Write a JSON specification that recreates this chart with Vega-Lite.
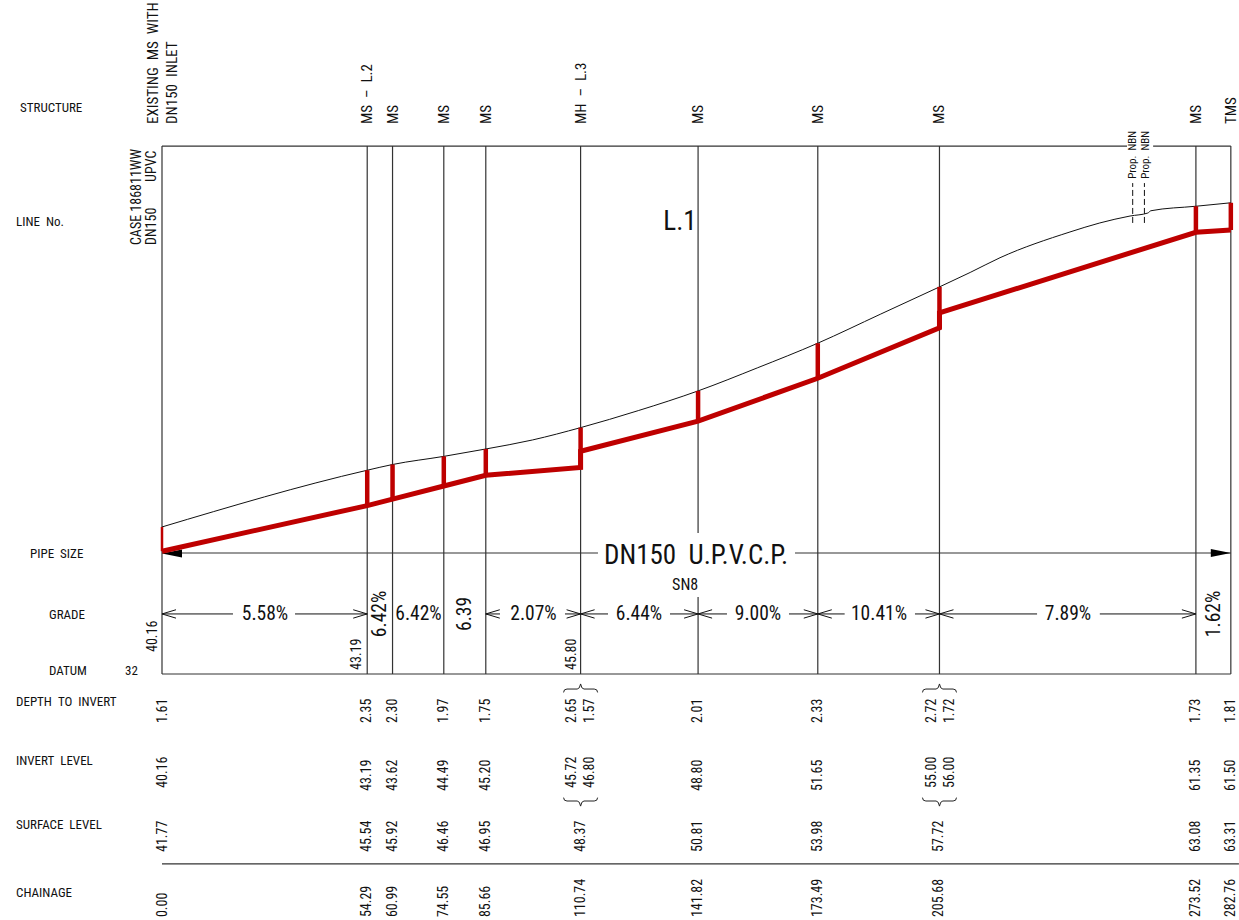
{
"$schema":"https://vega.github.io/schema/vega-lite/v6.json",
"width":1239,"height":920,"padding":0,
"autosize":{"type":"none"},
"background":"white",
"view":{"stroke":null},
"config":{"text":{"font":"Roboto Condensed, DejaVu Sans Condensed, Liberation Sans","color":"#111"}},
"datasets":{
"frame":[
{"x0":0,"x1":0,"y0":32,"y1":67.08},
{"x0":54.29,"x1":54.29,"y0":32,"y1":67.08},
{"x0":60.99,"x1":60.99,"y0":32,"y1":67.08},
{"x0":74.55,"x1":74.55,"y0":32,"y1":67.08},
{"x0":85.66,"x1":85.66,"y0":32,"y1":67.08},
{"x0":110.74,"x1":110.74,"y0":32,"y1":67.08},
{"x0":141.82,"x1":141.82,"y0":41.37,"y1":67.08},
{"x0":141.82,"x1":141.82,"y0":32,"y1":37.12},
{"x0":173.49,"x1":173.49,"y0":32,"y1":67.08},
{"x0":205.68,"x1":205.68,"y0":32,"y1":67.08},
{"x0":273.52,"x1":273.52,"y0":32,"y1":67.08},
{"x0":282.76,"x1":282.76,"y0":32,"y1":67.08},
{"x0":0,"x1":255.3,"y0":67.08,"y1":67.08},
{"x0":262.2,"x1":282.76,"y0":67.08,"y1":67.08},
{"x0":0,"x1":282.76,"y0":32,"y1":32},
{"x0":0,"x1":284.9,"y0":19.38,"y1":19.38},
{"x0":0,"x1":115.34,"y0":40.04,"y1":40.04},
{"x0":167.46,"x1":282.76,"y0":40.04,"y1":40.04}
],
"grade":[
{"x0":0,"x1":18.78},{"x0":35.19,"x1":54.29},
{"x0":85.66,"x1":89.42},{"x0":106.61,"x1":110.74},
{"x0":110.74,"x1":117.99},{"x0":134.39,"x1":141.82},
{"x0":141.82,"x1":149.47},{"x0":165.87,"x1":173.49},
{"x0":173.49,"x1":180.6},{"x0":199.2,"x1":205.68},
{"x0":205.68,"x1":231.5},{"x0":248.1,"x1":273.52}
],
"nbn":[
{"x":256.8,"y0":61.97,"y1":64.62},
{"x":259.9,"y0":61.97,"y1":64.62}
],
"stations":[
{"chainage":0,"invert":40.16,"surface":41.77},
{"chainage":54.29,"invert":43.19,"surface":45.54},
{"chainage":60.99,"invert":43.62,"surface":45.92},
{"chainage":74.55,"invert":44.49,"surface":46.46},
{"chainage":85.66,"invert":45.2,"surface":46.95},
{"chainage":110.74,"invert":45.72,"surface":48.37},
{"chainage":141.82,"invert":48.8,"surface":50.81},
{"chainage":173.49,"invert":51.65,"surface":53.98},
{"chainage":205.68,"invert":55,"surface":57.72},
{"chainage":273.52,"invert":61.35,"surface":63.08},
{"chainage":282.76,"invert":61.5,"surface":63.31}
],
"ground":[
{"seq":1,"c":0,"lvl":41.77},{"seq":2,"c":54.29,"lvl":45.54},{"seq":3,"c":60.99,"lvl":45.92},
{"seq":4,"c":74.55,"lvl":46.46},{"seq":5,"c":85.66,"lvl":46.95},{"seq":6,"c":98,"lvl":47.55},
{"seq":7,"c":110.74,"lvl":48.37},{"seq":8,"c":126,"lvl":49.5},{"seq":9,"c":141.82,"lvl":50.81},
{"seq":10,"c":157.6,"lvl":52.35},{"seq":11,"c":173.49,"lvl":53.98},{"seq":12,"c":190,"lvl":55.9},
{"seq":13,"c":205.68,"lvl":57.72},{"seq":14,"c":213.8,"lvl":58.68},{"seq":15,"c":221.7,"lvl":59.66},
{"seq":16,"c":240.2,"lvl":61.37},{"seq":17,"c":248.1,"lvl":61.97},{"seq":18,"c":256.1,"lvl":62.43},
{"seq":19,"c":260.8,"lvl":62.63},{"seq":20,"c":261.6,"lvl":62.78},{"seq":21,"c":273.52,"lvl":63.08},
{"seq":22,"c":282.76,"lvl":63.31}
],
"pipe":[
{"seq":1,"c":0,"lvl":40.16},{"seq":2,"c":54.29,"lvl":43.19},{"seq":3,"c":60.99,"lvl":43.62},
{"seq":4,"c":74.55,"lvl":44.49},{"seq":5,"c":85.66,"lvl":45.2},{"seq":6,"c":110.74,"lvl":45.72},
{"seq":7,"c":110.74,"lvl":46.8},{"seq":8,"c":141.82,"lvl":48.8},{"seq":9,"c":173.49,"lvl":51.65},
{"seq":10,"c":205.68,"lvl":55},{"seq":11,"c":205.68,"lvl":56},{"seq":12,"c":273.52,"lvl":61.35},
{"seq":13,"c":282.76,"lvl":61.5}
],
"arrowsL":[{"c":0},{"c":85.66},{"c":110.74},{"c":141.82},{"c":173.49},{"c":205.68}],
"arrowsR":[{"c":54.29},{"c":110.74},{"c":141.82},{"c":173.49},{"c":205.68},{"c":273.52}],
"braces":[{"c":110.74},{"c":205.68}],
"rowNames":[
{"t":"STRUCTURE","c":-37.57,"l":69.61},
{"t":"LINE\u00a0\u00a0No.","c":-38.62,"l":62.03},
{"t":"PIPE\u00a0\u00a0SIZE","c":-34.92,"l":39.97},
{"t":"GRADE","c":-29.89,"l":35.92},
{"t":"DATUM","c":-29.89,"l":32.2},
{"t":"32","c":-9.79,"l":32.2},
{"t":"DEPTH\u00a0\u00a0TO\u00a0\u00a0INVERT","c":-38.62,"l":30.14},
{"t":"INVERT\u00a0\u00a0LEVEL","c":-38.62,"l":26.22},
{"t":"SURFACE\u00a0\u00a0LEVEL","c":-38.62,"l":21.97},
{"t":"CHAINAGE","c":-38.62,"l":17.45}
],
"values":[
{"t":"1.61","c":0.2,"l":28.74},{"t":"2.35","c":54.29,"l":28.74},{"t":"2.30","c":60.99,"l":28.74},{"t":"1.97","c":74.55,"l":28.74},{"t":"1.75","c":85.66,"l":28.74},{"t":"2.65","c":108.39,"l":28.74},{"t":"1.57","c":113.23,"l":28.74},{"t":"2.01","c":141.82,"l":28.74},{"t":"2.33","c":173.49,"l":28.74},{"t":"2.72","c":203.62,"l":28.74},{"t":"1.72","c":208.47,"l":28.74},{"t":"1.73","c":273.52,"l":28.74},{"t":"1.81","c":282.76,"l":28.74},
{"t":"40.16","c":0.2,"l":24.43},{"t":"43.19","c":54.29,"l":24.23},{"t":"43.62","c":60.99,"l":24.23},{"t":"44.49","c":74.55,"l":24.23},{"t":"45.20","c":85.66,"l":24.23},{"t":"45.72","c":108.39,"l":24.43},{"t":"46.80","c":113.23,"l":24.43},{"t":"48.80","c":141.82,"l":24.23},{"t":"51.65","c":173.49,"l":24.23},{"t":"55.00","c":203.62,"l":24.43},{"t":"56.00","c":208.47,"l":24.43},{"t":"61.35","c":273.52,"l":24.23},{"t":"61.50","c":282.76,"l":24.23},
{"t":"41.77","c":0.2,"l":20.17},{"t":"45.54","c":54.29,"l":20.17},{"t":"45.92","c":60.99,"l":20.17},{"t":"46.46","c":74.55,"l":20.17},{"t":"46.95","c":85.66,"l":20.17},{"t":"48.37","c":110.74,"l":20.17},{"t":"50.81","c":141.82,"l":20.17},{"t":"53.98","c":173.49,"l":20.17},{"t":"57.72","c":205.68,"l":20.17},{"t":"63.08","c":273.52,"l":20.17},{"t":"63.31","c":282.76,"l":20.17},
{"t":"0.00","c":0.2,"l":15.85},{"t":"54.29","c":54.29,"l":15.85},{"t":"60.99","c":60.99,"l":15.85},{"t":"74.55","c":74.55,"l":15.85},{"t":"85.66","c":85.66,"l":15.85},{"t":"110.74","c":110.74,"l":15.85},{"t":"141.82","c":141.82,"l":15.85},{"t":"173.49","c":173.49,"l":15.85},{"t":"205.68","c":205.68,"l":15.85},{"t":"273.52","c":273.52,"l":15.85},{"t":"282.76","c":282.76,"l":15.85},
{"t":"40.16","c":-2.38,"l":33.46},{"t":"43.19","c":51.6,"l":32.27},{"t":"45.80","c":108.5,"l":32.27},
{"t":"CASE\u00a0186811WW","c":-6.6,"l":60.5},{"t":"DN150\u00a0\u00a0\u00a0\u00a0\u00a0\u00a0\u00a0\u00a0UPVC","c":-2.65,"l":60.5}
],
"structures":[
{"t":"EXISTING\u00a0\u00a0MS\u00a0\u00a0WITH","c":-2.4,"l":68.54},
{"t":"DN150\u00a0\u00a0INLET","c":2.6,"l":68.54},
{"t":"MS\u00a0\u00a0\u2013\u00a0\u00a0L.2","c":54.29,"l":68.54},
{"t":"MS","c":60.99,"l":68.54},{"t":"MS","c":74.55,"l":68.54},{"t":"MS","c":85.66,"l":68.54},
{"t":"MH\u00a0\u00a0\u2013\u00a0\u00a0L.3","c":110.74,"l":68.54},
{"t":"MS","c":141.82,"l":68.54},{"t":"MS","c":173.49,"l":68.54},{"t":"MS","c":205.68,"l":68.54},
{"t":"MS","c":273.52,"l":68.54},{"t":"TMS","c":282.76,"l":68.54}
],
"gradeH":[
{"t":"5.58%","c":27.25},{"t":"6.42%","c":67.86},{"t":"2.07%","c":98.28},{"t":"6.44%","c":126.2},
{"t":"9.00%","c":157.67},{"t":"10.41%","c":189.68},{"t":"7.89%","c":239.68}
],
"gradeV":[{"t":"6.42%","c":57.8},{"t":"6.39","c":80.16},{"t":"1.62%","c":278.2}],
"nbnText":[{"t":"Prop.\u00a0\u00a0NBN","c":256.8,"l":64.9},{"t":"Prop.\u00a0\u00a0NBN","c":260.2,"l":64.9}],
"big":[{"t":"L.1","c":137.04,"l":62.03},{"t":"DN150\u00a0\u00a0U.P.V.C.P.","c":141.3,"l":39.84}],
"sn":[{"t":"SN8","c":138.4,"l":37.91}]
},
"layer":[
{"data":{"name":"frame"},"mark":{"type":"rule","color":"#333","strokeWidth":1.2},
 "encoding":{"x":{"field":"x0","type":"quantitative","axis":null,"scale":{"domain":[-42.857,284.921],"nice":false,"zero":false}},
 "x2":{"field":"x1"},
 "y":{"field":"y0","type":"quantitative","axis":null,"scale":{"domain":[15.654,76.784],"nice":false,"zero":false}},
 "y2":{"field":"y1"}}},
{"data":{"name":"grade"},"mark":{"type":"rule","color":"#111","strokeWidth":1},
 "encoding":{"x":{"field":"x0","type":"quantitative","axis":null,"scale":{"domain":[-42.857,284.921],"nice":false,"zero":false}},"x2":{"field":"x1"},"y":{"datum":35.99,"axis":null,"scale":{"domain":[15.654,76.784],"nice":false,"zero":false}}}},
{"data":{"name":"nbn"},"mark":{"type":"rule","color":"#111","strokeWidth":1,"strokeDash":[6,3]},
 "encoding":{"x":{"field":"x","type":"quantitative","axis":null,"scale":{"domain":[-42.857,284.921],"nice":false,"zero":false}},"y":{"field":"y0","type":"quantitative","axis":null,"scale":{"domain":[15.654,76.784],"nice":false,"zero":false}},"y2":{"field":"y1"}}},
{"data":{"name":"arrowsL"},"mark":{"type":"point","filled":false,"stroke":"#111","strokeWidth":1,"opacity":1,"size":196,"shape":"M2,-0.6L0,0L2,0.6"},
 "encoding":{"x":{"field":"c","type":"quantitative","axis":null,"scale":{"domain":[-42.857,284.921],"nice":false,"zero":false}},"y":{"datum":35.99,"axis":null,"scale":{"domain":[15.654,76.784],"nice":false,"zero":false}}}},
{"data":{"name":"arrowsR"},"mark":{"type":"point","filled":false,"stroke":"#111","strokeWidth":1,"opacity":1,"size":196,"shape":"M-2,-0.6L0,0L-2,0.6"},
 "encoding":{"x":{"field":"c","type":"quantitative","axis":null,"scale":{"domain":[-42.857,284.921],"nice":false,"zero":false}},"y":{"datum":35.99,"axis":null,"scale":{"domain":[15.654,76.784],"nice":false,"zero":false}}}},
{"data":{"values":[{"c":0}]},"mark":{"type":"point","filled":true,"fill":"#000","opacity":1,"size":400,"shape":"M0,0L2,-0.4L2,0.4Z"},
 "encoding":{"x":{"field":"c","type":"quantitative","axis":null,"scale":{"domain":[-42.857,284.921],"nice":false,"zero":false}},"y":{"datum":40.0,"axis":null,"scale":{"domain":[15.654,76.784],"nice":false,"zero":false}}}},
{"data":{"values":[{"c":282.76}]},"mark":{"type":"point","filled":true,"fill":"#000","opacity":1,"size":400,"shape":"M0,0L-2,-0.4L-2,0.4Z"},
 "encoding":{"x":{"field":"c","type":"quantitative","axis":null,"scale":{"domain":[-42.857,284.921],"nice":false,"zero":false}},"y":{"datum":40.04,"axis":null,"scale":{"domain":[15.654,76.784],"nice":false,"zero":false}}}},
{"data":{"name":"braces"},"mark":{"type":"point","filled":false,"stroke":"#222","strokeWidth":1,"opacity":1,"size":1156,"shape":"M-1,0.2Q-1,0,-0.8,0L-0.2,0Q-0.05,0,0,-0.3Q0.05,0,0.2,0L0.8,0Q1,0,1,0.2"},
 "encoding":{"x":{"field":"c","type":"quantitative","axis":null,"scale":{"domain":[-42.857,284.921],"nice":false,"zero":false}},"y":{"datum":31.0,"axis":null,"scale":{"domain":[15.654,76.784],"nice":false,"zero":false}}}},
{"data":{"name":"braces"},"mark":{"type":"point","filled":false,"stroke":"#222","strokeWidth":1,"opacity":1,"size":1156,"shape":"M-1,-0.2Q-1,0,-0.8,0L-0.2,0Q-0.05,0,0,0.3Q0.05,0,0.2,0L0.8,0Q1,0,1,-0.2"},
 "encoding":{"x":{"field":"c","type":"quantitative","axis":null,"scale":{"domain":[-42.857,284.921],"nice":false,"zero":false}},"y":{"datum":23.56,"axis":null,"scale":{"domain":[15.654,76.784],"nice":false,"zero":false}}}},
{"data":{"name":"ground"},"mark":{"type":"line","color":"#111","strokeWidth":1,"interpolate":"monotone"},
 "encoding":{"x":{"field":"c","type":"quantitative","axis":null,"scale":{"domain":[-42.857,284.921],"nice":false,"zero":false}},"y":{"field":"lvl","type":"quantitative","axis":null,"scale":{"domain":[15.654,76.784],"nice":false,"zero":false}},"order":{"field":"seq"}}},
{"data":{"name":"stations"},"transform":[{"filter":"datum.chainage > 0"}],"mark":{"type":"rule","color":"#be0000","strokeWidth":4.5},
 "encoding":{"x":{"field":"chainage","type":"quantitative","axis":null,"scale":{"domain":[-42.857,284.921],"nice":false,"zero":false}},"y":{"field":"invert","type":"quantitative","axis":null,"scale":{"domain":[15.654,76.784],"nice":false,"zero":false}},"y2":{"field":"surface"}}},
{"data":{"name":"stations"},"transform":[{"filter":"datum.chainage == 0"}],"mark":{"type":"rule","color":"#be0000","strokeWidth":2.5},
 "encoding":{"x":{"field":"chainage","type":"quantitative","axis":null,"scale":{"domain":[-42.857,284.921],"nice":false,"zero":false}},"y":{"field":"invert","type":"quantitative","axis":null,"scale":{"domain":[15.654,76.784],"nice":false,"zero":false}},"y2":{"field":"surface"}}},
{"data":{"name":"pipe"},"mark":{"type":"line","color":"#be0000","strokeWidth":5,"strokeJoin":"miter"},
 "encoding":{"x":{"field":"c","type":"quantitative","axis":null,"scale":{"domain":[-42.857,284.921],"nice":false,"zero":false}},"y":{"field":"lvl","type":"quantitative","axis":null,"scale":{"domain":[15.654,76.784],"nice":false,"zero":false}},"order":{"field":"seq"}}},
{"data":{"name":"rowNames"},"mark":{"type":"text","align":"left","baseline":"middle","fontSize":13},
 "encoding":{"x":{"field":"c","type":"quantitative","axis":null,"scale":{"domain":[-42.857,284.921],"nice":false,"zero":false}},"y":{"field":"l","type":"quantitative","axis":null,"scale":{"domain":[15.654,76.784],"nice":false,"zero":false}},"text":{"field":"t"}}},
{"data":{"name":"values"},"mark":{"type":"text","align":"left","baseline":"middle","angle":270,"fontSize":14},
 "encoding":{"x":{"field":"c","type":"quantitative","axis":null,"scale":{"domain":[-42.857,284.921],"nice":false,"zero":false}},"y":{"field":"l","type":"quantitative","axis":null,"scale":{"domain":[15.654,76.784],"nice":false,"zero":false}},"text":{"field":"t"}}},
{"data":{"name":"structures"},"mark":{"type":"text","align":"left","baseline":"middle","angle":270,"fontSize":15},
 "encoding":{"x":{"field":"c","type":"quantitative","axis":null,"scale":{"domain":[-42.857,284.921],"nice":false,"zero":false}},"y":{"field":"l","type":"quantitative","axis":null,"scale":{"domain":[15.654,76.784],"nice":false,"zero":false}},"text":{"field":"t"}}},
{"data":{"name":"gradeH"},"mark":{"type":"text","align":"center","baseline":"middle","fontSize":19.5},
 "encoding":{"x":{"field":"c","type":"quantitative","axis":null,"scale":{"domain":[-42.857,284.921],"nice":false,"zero":false}},"y":{"datum":35.99,"axis":null,"scale":{"domain":[15.654,76.784],"nice":false,"zero":false}},"text":{"field":"t"}}},
{"data":{"name":"gradeV"},"mark":{"type":"text","align":"center","baseline":"middle","angle":270,"fontSize":19.5},
 "encoding":{"x":{"field":"c","type":"quantitative","axis":null,"scale":{"domain":[-42.857,284.921],"nice":false,"zero":false}},"y":{"datum":35.99,"axis":null,"scale":{"domain":[15.654,76.784],"nice":false,"zero":false}},"text":{"field":"t"}}},
{"data":{"name":"nbnText"},"mark":{"type":"text","align":"left","baseline":"middle","angle":270,"fontSize":11},
 "encoding":{"x":{"field":"c","type":"quantitative","axis":null,"scale":{"domain":[-42.857,284.921],"nice":false,"zero":false}},"y":{"field":"l","type":"quantitative","axis":null,"scale":{"domain":[15.654,76.784],"nice":false,"zero":false}},"text":{"field":"t"}}},
{"data":{"name":"big"},"mark":{"type":"text","align":"center","baseline":"middle","fontSize":27},
 "encoding":{"x":{"field":"c","type":"quantitative","axis":null,"scale":{"domain":[-42.857,284.921],"nice":false,"zero":false}},"y":{"field":"l","type":"quantitative","axis":null,"scale":{"domain":[15.654,76.784],"nice":false,"zero":false}},"text":{"field":"t"}}},
{"data":{"name":"sn"},"mark":{"type":"text","align":"center","baseline":"middle","fontSize":16},
 "encoding":{"x":{"field":"c","type":"quantitative","axis":null,"scale":{"domain":[-42.857,284.921],"nice":false,"zero":false}},"y":{"field":"l","type":"quantitative","axis":null,"scale":{"domain":[15.654,76.784],"nice":false,"zero":false}},"text":{"field":"t"}}}
]
}
